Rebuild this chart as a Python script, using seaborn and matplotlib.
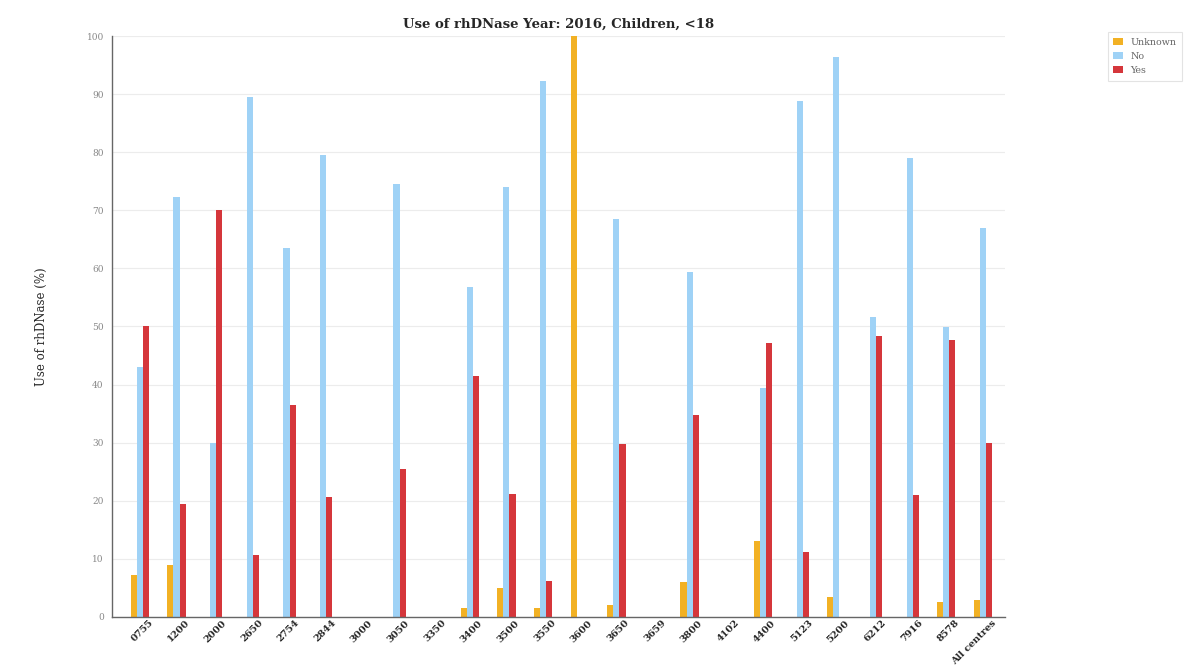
import pandas as pd
import matplotlib
matplotlib.use("Agg")
import matplotlib.pyplot as plt
import matplotlib.transforms as mtransforms
import seaborn as sns

# centres and % per answer
centres = ["0755", "1200", "2000", "2650", "2754", "2844", "3000", "3050", "3350",
           "3400", "3500", "3550", "3600", "3650", "3659", "3800", "4102", "4400",
           "5123", "5200", "6212", "7916", "8578", "All centres"]
unknown = [7.2, 9, 0, 0, 0, 0, 0, 0, 0, 1.5, 5, 1.5, 100, 2, 0, 6, 0, 13,
           0, 3.4, 0, 0, 2.5, 3]
no = [43, 72.3, 30, 89.5, 63.5, 79.5, 0, 74.6, 0, 56.8, 74, 92.2, 0, 68.5, 0, 59.4, 0, 39.4,
      88.8, 96.4, 51.6, 79, 49.9, 67]
yes = [50, 19.4, 70, 10.7, 36.5, 20.6, 0, 25.4, 0, 41.5, 21.2, 6.2, 0, 29.8, 0, 34.8, 0, 47.2,
       11.1, 0, 48.4, 21, 47.7, 30]

answers = ["Unknown", "No", "Yes"]
colors = ["#f2b124", "#9fd2f6", "#d5363b"]

df = pd.DataFrame({
    "centre": centres * 3,
    "answer": ["Unknown"] * len(centres) + ["No"] * len(centres) + ["Yes"] * len(centres),
    "pct": unknown + no + yes,
})

sns.set_style("white")
plt.rcParams["font.family"] = ["DejaVu Serif"]

fig = plt.figure(figsize=(11.92, 6.67), dpi=100)
ax = fig.add_axes([0.094, 0.075, 0.749, 0.871])

sns.barplot(data=df, x="centre", y="pct", hue="answer", hue_order=answers,
            palette=colors, width=0.5, saturation=1, order=centres, ax=ax,
            errorbar=None, linewidth=0)

ax.set_ylim(0, 100)
ax.set_xlim(-0.76, 23.6)
ax.set_yticks(range(0, 101, 10))
ax.yaxis.grid(True, color="#ececec", linewidth=0.8)
ax.set_axisbelow(True)
ax.tick_params(axis="y", labelsize=6.5, labelcolor="#888888", length=0, pad=6)
ax.tick_params(axis="x", length=0, pad=1)
shift = mtransforms.ScaledTranslation(6 / 72, 0, fig.dpi_scale_trans)
for lab in ax.get_xticklabels():
    lab.set_rotation(45)
    lab.set_ha("right")
    lab.set_rotation_mode("anchor")
    lab.set_fontsize(7)
    lab.set_fontweight("bold")
    lab.set_transform(lab.get_transform() + shift)

for side in ["top", "right"]:
    ax.spines[side].set_visible(False)
for side in ["left", "bottom"]:
    ax.spines[side].set_color("#666666")
    ax.spines[side].set_linewidth(1)

ax.set_xlabel("")
ax.set_ylabel("Use of rhDNase (%)", fontsize=8.5, labelpad=28)
ax.set_title("Use of rhDNase Year: 2016, Children, <18", fontsize=9.5,
             fontweight="bold", pad=6)

leg = ax.legend(loc="upper left", bbox_to_anchor=(1.11, 1.015), fontsize=6.8,
                frameon=True, handlelength=1.0, handleheight=0.8,
                borderpad=0.6, labelspacing=0.55, fancybox=False)
leg.get_frame().set_edgecolor("#dddddd")
leg.get_frame().set_linewidth(0.8)
for t in leg.get_texts():
    t.set_color("#666666")

fig.savefig("out.png", dpi=100)
